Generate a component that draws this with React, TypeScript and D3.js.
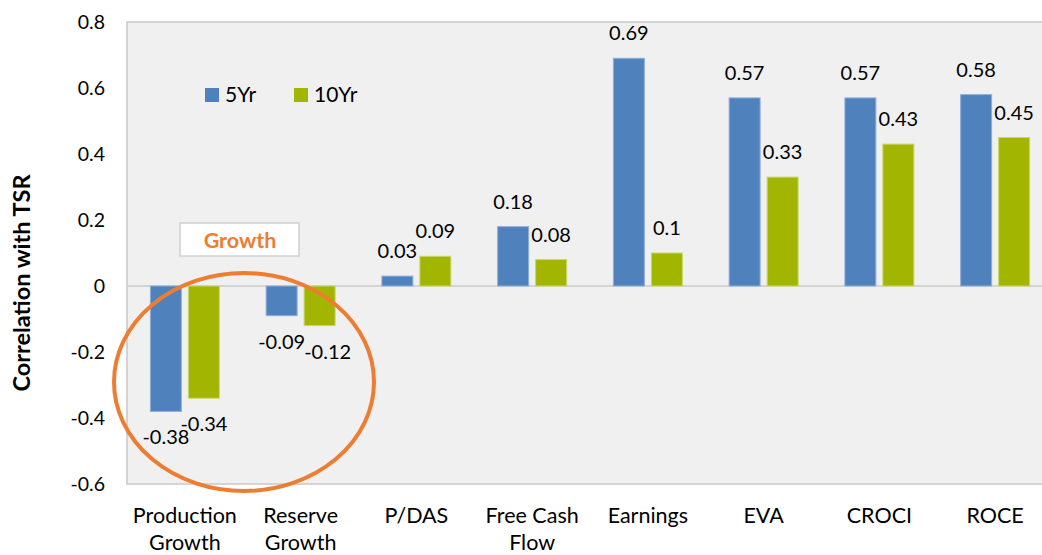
import React from "react";
import * as d3 from "d3";

const categories = [
  ["Production", "Growth"],
  ["Reserve", "Growth"],
  ["P/DAS"],
  ["Free Cash", "Flow"],
  ["Earnings"],
  ["EVA"],
  ["CROCI"],
  ["ROCE"],
];
const seriesNames = ["5Yr", "10Yr"];
const values5Yr = [-0.38, -0.09, 0.03, 0.18, 0.69, 0.57, 0.57, 0.58];
const values10Yr = [-0.34, -0.12, 0.09, 0.08, 0.1, 0.33, 0.43, 0.45];
const yTicks = [0.8, 0.6, 0.4, 0.2, 0, -0.2, -0.4, -0.6];
const colors = ["#4f81bd", "#a2b500"];
const strokes = ["#8eb0dc", "#c8d86a"];

const W = 1042;
const H = 555;
const FONT = "Lato, 'Open Sans', sans-serif";

export default function App() {
  const left = 127;
  const right = 1053;
  const top = 22;
  const bottom = 484;
  const x = d3.scaleBand<number>().domain(d3.range(categories.length)).range([left, right]).padding(0);
  const y = d3.scaleLinear().domain([-0.6, 0.8]).range([bottom, top]);
  const barW = 31;
  const gap = 7;
  const series = [values5Yr, values10Yr];
  const fmt = (v: number) => String(v);
  return (
    <svg width={W} height={H} style={{ position: "absolute", left: 0, top: 0 }} fontFamily={FONT}>
      <rect x={0} y={0} width={W} height={H} fill="#ffffff" />
      <rect x={left} y={top} width={right - left} height={bottom - top} fill="#f0f0f0" stroke="#c8c8c8" strokeWidth={1.5} />
      <line x1={left} x2={right} y1={y(0)} y2={y(0)} stroke="#d4d4d4" strokeWidth={2} />
      {yTicks.map((t) => (
        <text key={t} x={105} y={y(t)} dy="0.35em" textAnchor="end" fontSize={19.5} fill="#000">
          {t === 0 ? "0" : String(t)}
        </text>
      ))}
      <text
        transform={`translate(22, 283) rotate(-90)`}
        textAnchor="middle"
        dy="0.35em"
        fontSize={23.5}
        fontWeight="bold"
        fill="#000"
      >
        Correlation with TSR
      </text>
      {series.map((vals, si) =>
        vals.map((v, i) => {
          const cx = (x(i) as number) + x.bandwidth() / 2;
          const bx = si === 0 ? cx - gap / 2 - barW : cx + gap / 2;
          const y0 = y(0);
          const yv = y(v);
          const by = Math.min(y0, yv);
          const bh = Math.abs(yv - y0);
          const labelY = v >= 0 ? yv - 25 : yv + 26;
          return (
            <g key={`${si}-${i}`}>
              <rect x={bx} y={by} width={barW} height={bh} fill={colors[si]} stroke={strokes[si]} strokeWidth={1} />
              <text x={bx + barW / 2 + (si === 1 && i === 1 ? 8 : 0)} y={labelY} dy="0.35em" textAnchor="middle" fontSize={20} fill="#000">
                {fmt(v)}
              </text>
            </g>
          );
        })
      )}
      {categories.map((lines, i) => {
        const cx = (x(i) as number) + x.bandwidth() / 2;
        return (
          <text key={i} x={cx} y={515} textAnchor="middle" fontSize={21.5} fill="#000">
            {lines.map((l, k) => (
              <tspan key={k} x={cx} dy={k === 0 ? "0.35em" : 27}>
                {l}
              </tspan>
            ))}
          </text>
        );
      })}
      {seriesNames.map((n, si) => {
        const lx = si === 0 ? 205 : 294;
        return (
          <g key={n}>
            <rect x={lx} y={88} width={14} height={14} fill={colors[si]} />
            <text x={lx + 20} y={95} dy="0.35em" fontSize={21} fill="#000">
              {n}
            </text>
          </g>
        );
      })}
      <rect x={180} y={223} width={119} height={33} fill="#ffffff" stroke="#d0d0d0" strokeWidth={1.5} />
      <text x={240} y={240} dy="0.35em" textAnchor="middle" fontSize={21.5} fontWeight="bold" fill="#ed7d31">
        Growth
      </text>
      <ellipse cx={244} cy={382} rx={130} ry={109} fill="none" stroke="#ed7d31" strokeWidth={4} />
    </svg>
  );
}
